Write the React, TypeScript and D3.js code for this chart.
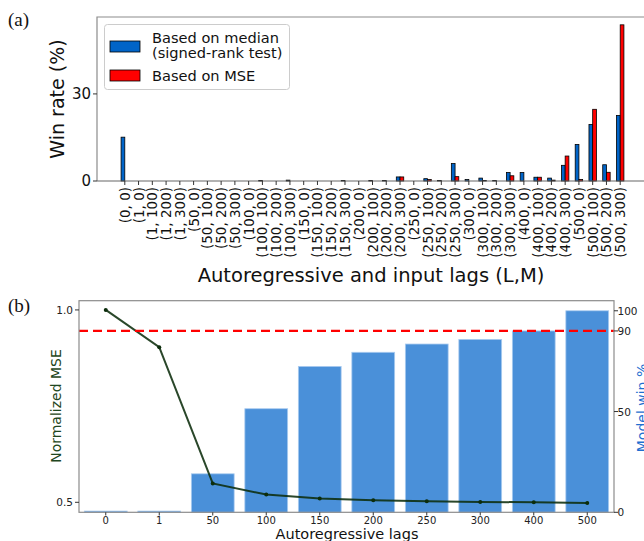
import React, { useRef, useEffect } from 'react';
import * as d3 from 'd3';

// (a) win rate per (L, M) lag pair
const lagPairs = [
  '(0, 0)', '(1, 0)', '(1, 100)', '(1, 200)', '(1, 300)',
  '(50, 0)', '(50, 100)', '(50, 200)', '(50, 300)',
  '(100, 0)', '(100, 100)', '(100, 200)', '(100, 300)',
  '(150, 0)', '(150, 100)', '(150, 200)', '(150, 300)',
  '(200, 0)', '(200, 100)', '(200, 200)', '(200, 300)',
  '(250, 0)', '(250, 100)', '(250, 200)', '(250, 300)',
  '(300, 0)', '(300, 100)', '(300, 200)', '(300, 300)',
  '(400, 0)', '(400, 100)', '(400, 200)', '(400, 300)',
  '(500, 0)', '(500, 100)', '(500, 200)', '(500, 300)',
];
const winMedian = [
  15.1, 0, 0, 0, 0,
  0, 0, 0, 0,
  0, 0.2, 0, 0.3,
  0, 0, 0, 0.2,
  0, 0.2, 0.2, 1.4,
  0, 0.8, 0.2, 6.0,
  0.5, 1.0, 0.2, 2.9,
  2.9, 1.3, 1.0, 5.4,
  12.6, 19.5, 5.6, 22.6,
];
const winMSE = [
  0, 0, 0, 0, 0,
  0, 0, 0, 0,
  0, 0, 0, 0,
  0, 0, 0, 0,
  0, 0, 0, 1.4,
  0, 0.5, 0, 1.5,
  0, 0.2, 0, 1.8,
  0, 1.3, 0.3, 8.6,
  0.5, 24.7, 3.0, 53.8,
];
const topYTicks = [0, 30];

// (b) normalized MSE and model win % per autoregressive lag
const arLags = ['0', '1', '50', '100', '150', '200', '250', '300', '400', '500'];
const normMSE = [1.0, 0.903, 0.549, 0.52, 0.51, 0.505, 0.503, 0.501, 0.5, 0.498];
const modelWin = [0.6, 0.6, 19.1, 51.4, 72.4, 79.4, 83.5, 85.8, 90, 100];
const leftTicks = [0.5, 1.0];
const rightTicks = [0, 50, 90, 100];
const threshold = 90;

const FONT = '"DejaVu Sans", sans-serif';
const SERIF = '"Liberation Serif", "DejaVu Serif", serif';
const BLUE = '#0064c8';
const RED = '#ff0000';

const App: React.FC = () => {
  const svgRef = useRef<SVGSVGElement>(null);

  useEffect(() => {
    if (!svgRef.current) return;
    const svg = d3.select(svgRef.current);
    svg.selectAll('*').remove();

    // ---------- panel (a) ----------
    const x = d3.scaleLinear().domain([-2.02, 38.02]).range([97, 648]);
    const y = d3.scaleLinear().domain([0, 56.5]).range([181, 17]);
    const bw = 0.27;

    const a = svg.append('g');

    // paired bars: median left of the tick, MSE right of it
    const drawBars = (vals: number[], offset: number, color: string) => {
      vals.forEach((v, i) => {
        if (v <= 0) return;
        a.append('rect')
          .attr('x', x(i + offset))
          .attr('y', y(v))
          .attr('width', x(i + offset + bw) - x(i + offset))
          .attr('height', y(0) - y(v))
          .attr('fill', color)
          .attr('stroke', '#000')
          .attr('stroke-width', 0.8);
      });
    };
    drawBars(winMedian, -bw, BLUE);
    drawBars(winMSE, 0, RED);

    // spines
    a.append('path')
      .attr('d', `M${x.range()[0]},${y(0)}V${y.range()[1]}H${x.range()[1]}`)
      .attr('fill', 'none')
      .attr('stroke', '#8c8c8c')
      .attr('stroke-width', 1.2);
    a.append('line')
      .attr('x1', x.range()[0]).attr('x2', x.range()[1])
      .attr('y1', y(0)).attr('y2', y(0))
      .attr('stroke', '#666').attr('stroke-width', 1.2);

    // x ticks + labels
    lagPairs.forEach((lab, i) => {
      a.append('line')
        .attr('x1', x(i)).attr('x2', x(i))
        .attr('y1', y(0)).attr('y2', y(0) + 4)
        .attr('stroke', '#333');
      a.append('text')
        .attr('transform', `translate(${x(i)},${y(0) + 6}) rotate(-90)`)
        .attr('text-anchor', 'end')
        .attr('dominant-baseline', 'central')
        .style('font-family', FONT)
        .style('font-size', '13.5px')
        .style('fill', '#111')
        .text(lab);
    });

    // y ticks
    topYTicks.forEach(t => {
      a.append('line')
        .attr('x1', x.range()[0] - 4).attr('x2', x.range()[0])
        .attr('y1', y(t)).attr('y2', y(t))
        .attr('stroke', '#333');
      a.append('text')
        .attr('x', x.range()[0] - 6)
        .attr('y', y(t))
        .attr('text-anchor', 'end')
        .attr('dominant-baseline', 'central')
        .style('font-family', FONT)
        .style('font-size', '15px')
        .style('fill', '#111')
        .text(t);
    });

    a.append('text')
      .attr('transform', 'translate(64,99) rotate(-90)')
      .attr('text-anchor', 'middle')
      .style('font-family', FONT)
      .style('font-size', '19px')
      .style('fill', '#111')
      .text('Win rate (%)');

    a.append('text')
      .attr('x', 371)
      .attr('y', 282)
      .attr('text-anchor', 'middle')
      .style('font-family', FONT)
      .style('font-size', '19.5px')
      .style('fill', '#111')
      .text('Autoregressive and input lags (L,M)');

    // legend
    const lg = a.append('g');
    lg.append('rect')
      .attr('x', 104.5).attr('y', 24.5).attr('width', 185).attr('height', 65)
      .attr('rx', 3)
      .attr('fill', '#fff').attr('fill-opacity', 0.85)
      .attr('stroke', '#cccccc');
    lg.append('rect')
      .attr('x', 110).attr('y', 41).attr('width', 30).attr('height', 11)
      .attr('fill', BLUE).attr('stroke', '#000').attr('stroke-width', 0.8);
    lg.append('rect')
      .attr('x', 110).attr('y', 70).attr('width', 30).attr('height', 11)
      .attr('fill', RED).attr('stroke', '#000').attr('stroke-width', 0.8);
    const legendLines: [string, number][] = [
      ['Based on median', 42.5],
      ['(signed-rank test)', 58],
      ['Based on MSE', 80.5],
    ];
    legendLines.forEach(([t, yy]) => {
      lg.append('text')
        .attr('x', 152).attr('y', yy)
        .style('font-family', FONT)
        .style('font-size', '14.6px')
        .style('fill', '#111')
        .text(t);
    });

    a.append('text')
      .attr('x', 8).attr('y', 26)
      .style('font-family', SERIF)
      .style('font-size', '19px')
      .style('fill', '#111')
      .text('(a)');

    // ---------- panel (b) ----------
    const xb = d3.scaleBand<string>().domain(arLags).range([79, 614]).paddingInner(0.2).paddingOuter(0.1);
    const yl = d3.scaleLinear().domain([0.474, 1.024]).range([512.3, 300.7]);
    const yr = d3.scaleLinear().domain([0, 105]).range([512.3, 300.7]);
    const cx = (d: string) => (xb(d) as number) + xb.bandwidth() / 2;

    const b = svg.append('g');

    // bars (twin axis)
    b.selectAll('.win')
      .data(modelWin)
      .enter()
      .append('rect')
      .attr('x', (d, i) => xb(arLags[i]) as number)
      .attr('y', d => yr(d))
      .attr('width', xb.bandwidth())
      .attr('height', d => yr(0) - yr(d))
      .attr('fill', '#4a90d9')
      .attr('stroke', '#a9cbef')
      .attr('stroke-width', 0.8);

    // normalized MSE line
    const line = d3.line<number>()
      .x((d, i) => cx(arLags[i]))
      .y(d => yl(d));
    b.append('path')
      .datum(normMSE)
      .attr('d', line)
      .attr('fill', 'none')
      .attr('stroke', '#0c2d0c')
      .attr('stroke-opacity', 0.88)
      .attr('stroke-width', 2);
    b.selectAll('.pt')
      .data(normMSE)
      .enter()
      .append('circle')
      .attr('cx', (d, i) => cx(arLags[i]))
      .attr('cy', d => yl(d))
      .attr('r', 2)
      .attr('fill', '#0c2d0c');

    // threshold
    b.append('line')
      .attr('x1', 79).attr('x2', 614)
      .attr('y1', yr(threshold)).attr('y2', yr(threshold))
      .attr('stroke', RED)
      .attr('stroke-width', 2.2)
      .attr('stroke-dasharray', '9,5');

    // frame
    b.append('rect')
      .attr('x', 79).attr('y', 300.7).attr('width', 535).attr('height', 211.6)
      .attr('fill', 'none')
      .attr('stroke', '#8c8c8c')
      .attr('stroke-width', 1.2);

    // bottom ticks
    arLags.forEach(l => {
      b.append('line')
        .attr('x1', cx(l)).attr('x2', cx(l))
        .attr('y1', 512.3).attr('y2', 515.5)
        .attr('stroke', '#333');
      b.append('text')
        .attr('x', cx(l)).attr('y', 523.5)
        .attr('text-anchor', 'middle')
        .style('font-family', FONT)
        .style('font-size', '10px')
        .style('fill', '#222')
        .text(l);
    });

    leftTicks.forEach(t => {
      b.append('line')
        .attr('x1', 75).attr('x2', 79)
        .attr('y1', yl(t)).attr('y2', yl(t))
        .attr('stroke', '#333');
      b.append('text')
        .attr('x', 73).attr('y', yl(t))
        .attr('text-anchor', 'end')
        .attr('dominant-baseline', 'central')
        .style('font-family', FONT)
        .style('font-size', '10.5px')
        .style('fill', '#222')
        .text(t.toFixed(1));
    });

    rightTicks.forEach(t => {
      b.append('line')
        .attr('x1', 614).attr('x2', 618)
        .attr('y1', yr(t)).attr('y2', yr(t))
        .attr('stroke', '#333');
      b.append('text')
        .attr('x', 617.5).attr('y', yr(t))
        .attr('dominant-baseline', 'central')
        .style('font-family', FONT)
        .style('font-size', '10.5px')
        .style('fill', '#222')
        .text(t);
    });

    b.append('text')
      .attr('x', 347).attr('y', 539)
      .attr('text-anchor', 'middle')
      .style('font-family', FONT)
      .style('font-size', '14.5px')
      .style('fill', '#111')
      .text('Autoregressive lags');

    b.append('text')
      .attr('transform', 'translate(61,406) rotate(-90)')
      .attr('text-anchor', 'middle')
      .style('font-family', FONT)
      .style('font-size', '14px')
      .style('fill', '#1e4620')
      .text('Normalized MSE');

    // right label is clipped by the figure edge, as in the original
    b.append('text')
      .attr('transform', 'translate(647,408) rotate(-90)')
      .attr('text-anchor', 'middle')
      .style('font-family', FONT)
      .style('font-size', '14px')
      .style('fill', '#1f6fd0')
      .text('Model win %');

    b.append('text')
      .attr('x', 8).attr('y', 312)
      .style('font-family', SERIF)
      .style('font-size', '19px')
      .style('fill', '#111')
      .text('(b)');
  }, []);

  return (
    <div style={{ position: 'absolute', left: 0, top: 0 }}>
      <svg ref={svgRef} width={644} height={541} style={{ display: 'block', background: '#fff' }} />
    </div>
  );
};

export default App;
